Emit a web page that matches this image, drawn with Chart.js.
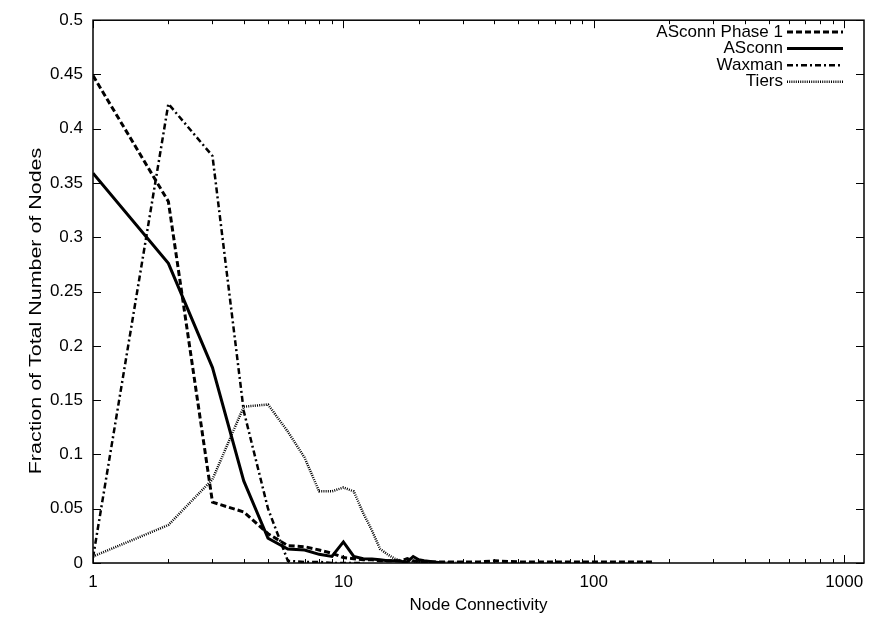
<!DOCTYPE html>
<html>
<head>
<meta charset="utf-8">
<script src="https://cdn.jsdelivr.net/npm/chart.js@4/dist/chart.umd.min.js"></script>
<style>
  html, body { margin: 0; padding: 0; background: #fff; }
  #wrap { width: 880px; height: 620px; }
</style>
</head>
<body>
<div id="wrap"><canvas id="chart" width="880" height="620"></canvas></div>
<script>
// node degree (x) and fraction of nodes (y)
const phase1Deg = [1, 2, 3, 4, 5, 6, 7, 8, 9, 10, 11, 12, 13, 14, 15, 16, 17, 18, 19, 20, 22, 25, 30, 35, 40, 50, 60, 70, 80, 100, 120, 150, 171];
const phase1Val = [0.449, 0.333, 0.056, 0.047, 0.027, 0.016, 0.015, 0.012, 0.009, 0.005, 0.004, 0.003, 0.003, 0.002, 0.002, 0.002, 0.002, 0.004, 0.002, 0.001, 0.001, 0.001, 0.001, 0.001, 0.002, 0.001, 0.001, 0.001, 0.001, 0.001, 0.001, 0.001, 0.001];

const asconnDeg = [1, 2, 3, 4, 5, 6, 7, 8, 9, 10, 11, 12, 13, 14, 15, 16, 17, 18, 19, 20, 21, 23, 25];
const asconnVal = [0.359, 0.276, 0.180, 0.0756, 0.0228, 0.0128, 0.012, 0.008, 0.006, 0.0194, 0.006, 0.004, 0.0036, 0.003, 0.002, 0.002, 0.0015, 0.001, 0.006, 0.003, 0.002, 0.001, 0];

const waxmanDeg = [1, 2, 3, 4, 5, 6, 7, 8, 9, 10, 11, 12];
const waxmanVal = [0.005, 0.423, 0.375, 0.140, 0.050, 0.002, 0.001, 0.001, 0, 0, 0, 0];

const tiersDeg = [1, 2, 3, 4, 5, 6, 7, 8, 9, 10, 11, 12, 13, 14, 15, 16, 17, 18, 20, 22, 25, 30];
const tiersVal = [0.006, 0.035, 0.077, 0.144, 0.146, 0.121, 0.097, 0.066, 0.066, 0.0695, 0.066, 0.046, 0.030, 0.013, 0.008, 0.004, 0.002, 0.001, 0.001, 0.001, 0.0005, 0];

const seriesNames = ['ASconn Phase 1', 'ASconn', 'Waxman', 'Tiers'];
const xTitle = 'Node Connectivity';
const yTitle = 'Fraction of Total Number of Nodes';

const FONT = '"Liberation Sans", Arial, Helvetica, sans-serif';

function pts(xs, ys) {
    return xs.map((x, i) => ({ x: x, y: ys[i] }));
}

// gnuplot style frame: box round the plot with ticks pointing inward on all four sides
const frameTicks = {
    id: 'frameTicks',
    afterDraw(chart) {
        const ctx = chart.ctx;
        const a = chart.chartArea;
        const xs = chart.scales.x;
        const ys = chart.scales.y;
        ctx.save();
        ctx.strokeStyle = '#000';
        ctx.lineWidth = 1.5;
        ctx.setLineDash([]);
        ctx.strokeRect(a.left, a.top, a.right - a.left, a.bottom - a.top);
        ctx.lineWidth = 1;
        ctx.beginPath();
        xs.ticks.forEach((t) => {
            const v = t.value;
            const m = v / Math.pow(10, Math.floor(Math.log10(v) + 1e-9));
            if (Math.abs(m - Math.round(m)) > 1e-6) return; // skip the axis max
            const px = Math.round(xs.getPixelForValue(v)) + 0.5;
            const len = Math.abs(m - 1) < 1e-6 ? 8 : 4;
            ctx.moveTo(px, a.bottom); ctx.lineTo(px, a.bottom - len);
            ctx.moveTo(px, a.top); ctx.lineTo(px, a.top + len);
        });
        ys.ticks.forEach((t) => {
            const py = Math.round(ys.getPixelForValue(t.value)) + 0.5;
            ctx.moveTo(a.left, py); ctx.lineTo(a.left + 8, py);
            ctx.moveTo(a.right, py); ctx.lineTo(a.right - 8, py);
        });
        ctx.stroke();
        ctx.restore();
    }
};

// the y label in the reference is drawn longer than the other text, so stretch it along its length
const yLabel = {
    id: 'yLabel',
    afterDraw(chart, args, opts) {
        const ctx = chart.ctx;
        ctx.save();
        ctx.translate(opts.x, opts.y);
        ctx.rotate(-Math.PI / 2);
        ctx.scale(opts.stretch, 1);
        ctx.font = opts.font;
        ctx.fillStyle = '#000';
        ctx.textAlign = 'center';
        ctx.textBaseline = 'middle';
        ctx.fillText(opts.text, 0, 0);
        ctx.restore();
    }
};

// key in the top right corner: right aligned text followed by a sample of the line
const keyBox = {
    id: 'keyBox',
    afterDraw(chart, args, opts) {
        const ctx = chart.ctx;
        ctx.save();
        ctx.font = opts.font;
        ctx.fillStyle = '#000';
        ctx.textAlign = 'right';
        ctx.textBaseline = 'middle';
        chart.data.datasets.forEach((ds, i) => {
            const y = opts.top + i * opts.rowGap;
            ctx.fillText(ds.label, opts.textRight, y);
            ctx.beginPath();
            ctx.setLineDash(ds.borderDash || []);
            ctx.lineWidth = ds.borderWidth;
            ctx.strokeStyle = ds.borderColor;
            ctx.moveTo(opts.lineStart, y);
            ctx.lineTo(opts.lineEnd, y);
            ctx.stroke();
        });
        ctx.restore();
    }
};

const line = (label, data, width, dash) => ({
    label: label,
    data: data,
    borderColor: '#000',
    backgroundColor: '#000',
    borderWidth: width,
    borderDash: dash,
    pointRadius: 0,
    tension: 0,
    fill: false,
    borderCapStyle: 'butt',
    borderJoinStyle: 'miter'
});

new Chart(document.getElementById('chart'), {
    type: 'line',
    data: {
        datasets: [
            line(seriesNames[0], pts(phase1Deg, phase1Val), 3, [6, 3]),
            line(seriesNames[1], pts(asconnDeg, asconnVal), 3, []),
            line(seriesNames[2], pts(waxmanDeg, waxmanVal), 2.5, [6, 3, 2, 3]),
            line(seriesNames[3], pts(tiersDeg, tiersVal), 2.5, [1, 1.2])
        ]
    },
    options: {
        responsive: false,
        animation: false,
        events: [],
        layout: { padding: { left: 0, top: 14, right: 16, bottom: 0 } },
        scales: {
            x: {
                type: 'logarithmic',
                min: 1,
                max: 1200,
                grid: { display: false, drawTicks: false },
                border: { display: false },
                afterFit(scale) { scale.height = 57; },
                ticks: {
                    autoSkip: false,
                    maxRotation: 0,
                    padding: 9,
                    color: '#000',
                    font: { family: FONT, size: 17 },
                    callback(v) {
                        const l = Math.log10(v);
                        return Math.abs(l - Math.round(l)) < 1e-9 ? String(v) : '';
                    }
                },
                title: {
                    display: true,
                    text: xTitle,
                    color: '#000',
                    font: { family: FONT, size: 17 },
                    padding: { top: 0, bottom: 4 }
                }
            },
            y: {
                min: 0,
                max: 0.5,
                grid: { display: false, drawTicks: false },
                border: { display: false },
                afterFit(scale) { scale.width = 93; },
                ticks: {
                    stepSize: 0.05,
                    padding: 10,
                    color: '#000',
                    font: { family: FONT, size: 17 },
                    callback(v) { return String(Math.round(v * 100) / 100); }
                },
                title: { display: false }
            }
        },
        plugins: {
            legend: { display: false },
            tooltip: { enabled: false },
            yLabel: {
                text: yTitle,
                font: '16px ' + FONT,
                x: 37,
                y: 311,
                stretch: 1.34
            },
            keyBox: {
                font: '17px ' + FONT,
                textRight: 783,
                lineStart: 787,
                lineEnd: 843,
                top: 32,
                rowGap: 16.6
            }
        }
    },
    plugins: [frameTicks, yLabel, keyBox]
});
</script>
</body>
</html>
